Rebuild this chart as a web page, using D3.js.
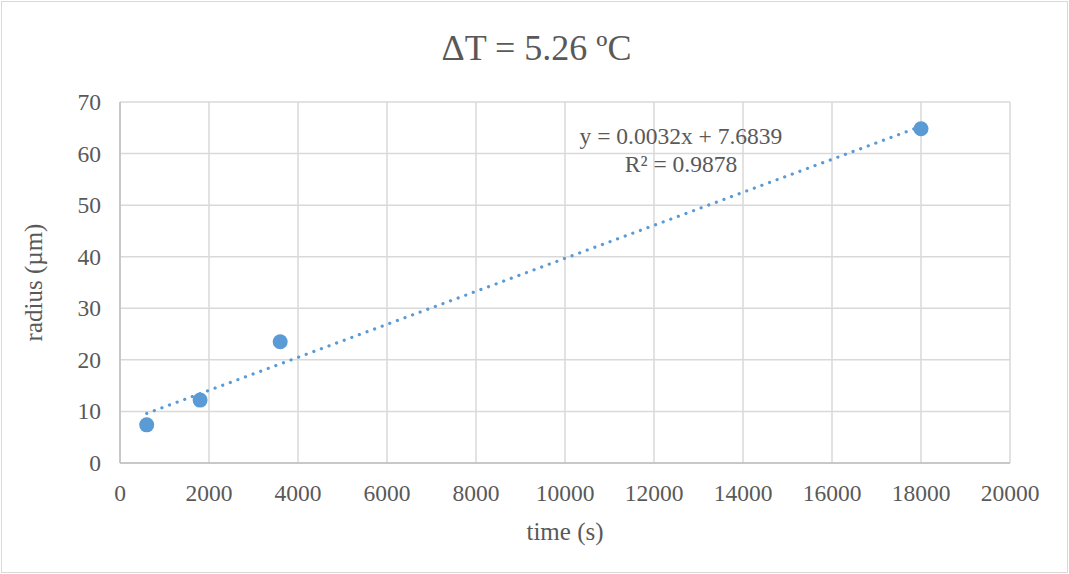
<!DOCTYPE html>
<html>
<head>
<meta charset="utf-8">
<script src="https://cdn.jsdelivr.net/npm/d3@7"></script>
<style>
  body { margin: 0; background: #fff; }
</style>
</head>
<body>
<div id="chart"></div>
<script>
const times = [600, 1800, 3600, 18000];
const radii = [7.4, 12.2, 23.5, 64.8];
const xTicks = [0, 2000, 4000, 6000, 8000, 10000, 12000, 14000, 16000, 18000, 20000];
const yTicks = [0, 10, 20, 30, 40, 50, 60, 70];
const slope = 0.0032;
const intercept = 7.6839;
const trendLabel = "y = 0.0032x + 7.6839";
const r2Label = "R² = 0.9878";

const W = 1069, H = 574;
const margin = {top: 102, right: 59, bottom: 111, left: 120};
const width = W - margin.left - margin.right;
const height = H - margin.top - margin.bottom;
const blue = "#5b9bd5";
const font = "'Liberation Serif', 'Times New Roman', 'DejaVu Serif', serif";

const svg = d3.select("#chart").append("svg")
  .attr("width", W)
  .attr("height", H)
  .attr("font-family", font)
  .style("font-family", font);

svg.append("rect")
  .attr("x", 1.5).attr("y", 1.5)
  .attr("width", W - 3).attr("height", H - 3)
  .attr("fill", "#fff")
  .attr("stroke", "#d9d9d9");

const g = svg.append("g")
  .attr("transform", `translate(${margin.left},${margin.top})`);

const x = d3.scaleLinear().domain([0, 20000]).range([0, width]);
const y = d3.scaleLinear().domain([0, 70]).range([height, 0]);

// grid
g.selectAll(".x-grid")
  .data(xTicks)
  .enter()
  .append("line")
  .attr("x1", d => x(d)).attr("x2", d => x(d))
  .attr("y1", 0).attr("y2", height)
  .attr("stroke", "#d9d9d9")
  .attr("stroke-width", 1.5);

g.selectAll(".y-grid")
  .data(yTicks)
  .enter()
  .append("line")
  .attr("x1", 0).attr("x2", width)
  .attr("y1", d => y(d)).attr("y2", d => y(d))
  .attr("stroke", "#d9d9d9")
  .attr("stroke-width", 1.5);

// axis lines
g.append("line")
  .attr("x1", 0).attr("x2", width)
  .attr("y1", height).attr("y2", height)
  .attr("stroke", "#bfbfbf").attr("stroke-width", 1.5);
g.append("line")
  .attr("x1", 0).attr("x2", 0)
  .attr("y1", 0).attr("y2", height)
  .attr("stroke", "#bfbfbf").attr("stroke-width", 1.5);

// tick labels
g.selectAll(".x-label")
  .data(xTicks)
  .enter()
  .append("text")
  .attr("x", d => x(d))
  .attr("y", height + 38)
  .attr("text-anchor", "middle")
  .attr("fill", "#595959")
  .style("font-size", "23.5px")
  .text(d => d);

g.selectAll(".y-label")
  .data(yTicks)
  .enter()
  .append("text")
  .attr("x", -19)
  .attr("y", d => y(d) + 8)
  .attr("text-anchor", "end")
  .attr("fill", "#595959")
  .style("font-size", "23.5px")
  .text(d => d);

// trendline
const x0 = d3.min(times), x1 = d3.max(times);
g.append("line")
  .attr("x1", x(x0)).attr("y1", y(slope * x0 + intercept))
  .attr("x2", x(x1)).attr("y2", y(slope * x1 + intercept))
  .attr("stroke", blue)
  .attr("stroke-width", 3.2)
  .attr("stroke-linecap", "round")
  .attr("stroke-dasharray", "0.1 8");

// points
g.selectAll("circle")
  .data(times)
  .enter()
  .append("circle")
  .attr("cx", d => x(d))
  .attr("cy", (d, i) => y(radii[i]))
  .attr("r", 7.5)
  .attr("fill", blue);

// trendline label
g.append("text")
  .attr("x", 681 - margin.left)
  .attr("y", 144 - margin.top)
  .attr("text-anchor", "middle")
  .attr("fill", "#595959")
  .style("font-size", "23.5px")
  .text(trendLabel);
g.append("text")
  .attr("x", 681 - margin.left)
  .attr("y", 172 - margin.top)
  .attr("text-anchor", "middle")
  .attr("fill", "#595959")
  .style("font-size", "23.5px")
  .text(r2Label);

// title
svg.append("text")
  .attr("x", W / 2 + 2)
  .attr("y", 60)
  .attr("text-anchor", "middle")
  .attr("fill", "#595959")
  .style("font-size", "36px")
  .text("ΔT = 5.26 ºC");

// axis titles
svg.append("text")
  .attr("x", margin.left + width / 2)
  .attr("y", 540)
  .attr("text-anchor", "middle")
  .attr("fill", "#595959")
  .style("font-size", "25px")
  .text("time (s)");

svg.append("text")
  .attr("transform", "rotate(-90)")
  .attr("x", -(margin.top + height / 2))
  .attr("y", 42)
  .attr("text-anchor", "middle")
  .attr("fill", "#595959")
  .style("font-size", "25px")
  .text("radius (µm)");
</script>
</body>
</html>
